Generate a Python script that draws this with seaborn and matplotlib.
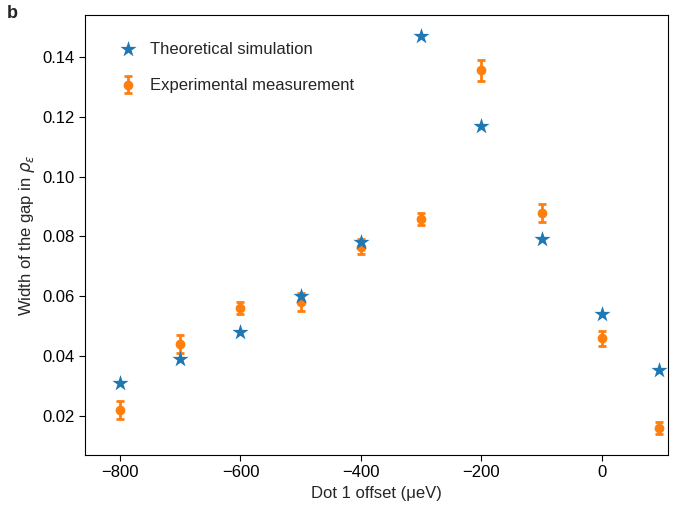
import matplotlib
matplotlib.use("Agg")
import matplotlib.pyplot as plt
import seaborn as sns
import pandas as pd

offsets = [-800, -700, -600, -500, -400, -300, -200, -100, 0, 95]
theory = [0.031, 0.039, 0.048, 0.060, 0.078, 0.147, 0.117, 0.079, 0.054, 0.0355]
exp_vals = [0.022, 0.044, 0.056, 0.058, 0.0765, 0.086, 0.1355, 0.088, 0.046, 0.016]
exp_err = [0.003, 0.003, 0.002, 0.003, 0.0025, 0.002, 0.0035, 0.003, 0.0025, 0.002]

sns.set_style("ticks")
plt.rcParams['font.family'] = ['Liberation Sans', 'DejaVu Sans']
plt.rcParams['mathtext.fontset'] = 'dejavusans'

fig, ax = plt.subplots(figsize=(6.81, 5.21), dpi=100)
fig.subplots_adjust(left=0.125, right=0.981, top=0.971, bottom=0.127)

df = pd.DataFrame({"x": offsets, "t": theory})
sns.scatterplot(data=df, x="x", y="t", marker="*", s=150, color="#1f77b4",
                linewidth=0, ax=ax, label="Theoretical simulation", zorder=3)
ax.errorbar(offsets, exp_vals, yerr=exp_err, fmt="o", color="#ff7f0e",
            markersize=6, capsize=3, elinewidth=2, capthick=2,
            label="Experimental measurement")

ax.set_xlim(-858, 110)
ax.set_ylim(0.007, 0.154)
ax.set_xticks([-800, -600, -400, -200, 0])
ax.set_xticklabels(["\u2212800", "\u2212600", "\u2212400", "\u2212200", "0"])
ax.set_yticks([0.02, 0.04, 0.06, 0.08, 0.10, 0.12, 0.14])
ax.tick_params(labelsize=12, colors="black", length=4)
for s in ax.spines.values():
    s.set_color("black")
ax.set_xlabel("Dot 1 offset (\u03bceV)", fontsize=12)
ax.set_ylabel(r"Width of the gap in $\rho_\varepsilon$", fontsize=12)
ax.legend(loc="upper left", frameon=False, fontsize=12, handletextpad=0.3,
          labelspacing=1.3, borderaxespad=1.2)
fig.text(0.01, 0.965, "b", fontsize=13, fontweight="bold")
fig.savefig("out.png", dpi=100)
